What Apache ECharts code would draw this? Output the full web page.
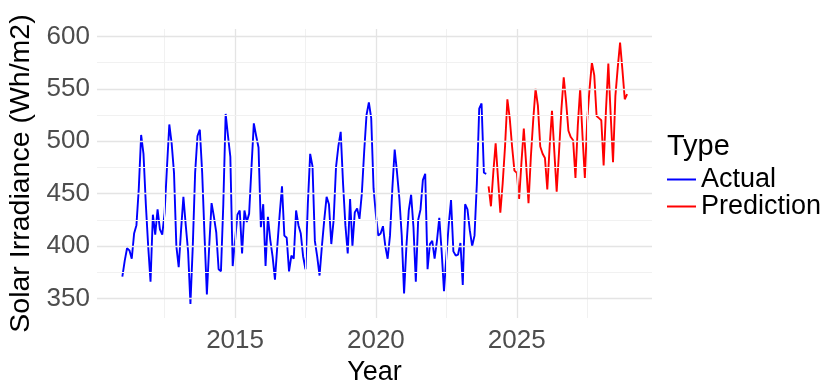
<!DOCTYPE html>
<html>
<head>
<meta charset="utf-8">
<script src="https://cdn.jsdelivr.net/npm/echarts@6/dist/echarts.min.js"></script>
<style>
  html, body { margin: 0; padding: 0; background: #fff; }
  #chart { width: 827px; height: 380px; }
</style>
</head>
<body>
<div id="chart"></div>
<script>
// ---- Data (monthly) ----
const actualStart = 2011;      // first month: Jan 2011
const predictionStart = 2024;  // first month: Jan 2024

const actualValues = [
  371, 386, 398, 396, 388, 412, 420, 455, 506, 488, 440, 400,   // 2011
  366, 430, 411, 435, 416, 411, 432, 475, 516, 498, 470, 400,   // 2012
  380, 415, 447, 420, 395, 345, 400, 470, 505, 511, 470, 410,   // 2013
  354, 400, 441, 428, 413, 378, 376, 440, 526, 505, 485, 381,   // 2014
  405, 430, 434, 393, 434, 423, 431, 475, 517, 505, 494, 418,   // 2015
  440, 381, 428, 406, 390, 368, 400, 430, 457, 410, 408, 376,   // 2016
  391, 388, 434, 420, 412, 390, 378, 440, 488, 476, 405, 390,   // 2017
  372, 400, 425, 447, 440, 402, 425, 475, 495, 509, 460, 420,   // 2018
  393, 445, 400, 432, 436, 426, 450, 490, 525, 537, 522, 455,   // 2019
  430, 410, 412, 419, 400, 388, 410, 455, 492, 470, 445, 410,   // 2020
  355, 400, 434, 449, 418, 366, 425, 435, 463, 469, 378, 402,   // 2021
  405, 388, 405, 427, 395, 357, 390, 420, 444, 395, 391, 392,   // 2022
  403, 363, 440, 435, 415, 400, 410, 460, 531, 536, 470, 469    // 2023
];

const predictionValues = [
  457, 438, 470, 498, 465, 432, 460, 495, 540, 522, 495, 472,   // 2024
  470, 445, 480, 512, 478, 441, 485, 520, 550, 534, 495, 488,   // 2025
  484, 454, 495, 529, 490, 452, 490, 530, 561, 538, 510, 504,   // 2026
  501, 465, 515, 550, 505, 465, 520, 550, 575, 563, 524, 522,   // 2027
  520, 477, 530, 574, 525, 480, 543, 570, 594, 568, 540, 545    // 2028
];

const xTickLabels = [2015, 2020, 2025];
const yTickLabels = [350, 400, 450, 500, 550, 600];
const xMinorGrid = [2012.5, 2017.5, 2022.5, 2027.5];
const yMinorGrid = [375, 425, 475, 525, 575];

const seriesNames = ['Actual', 'Prediction'];
const seriesColors = ['#0000ff', '#ff0000'];

// ---- Build the chart ----
function toPairs(start, values) {
  return values.map((v, i) => [start + i / 12, v]);
}

const font = "'Liberation Sans', Arial, sans-serif";

const gridLines = [];
xTickLabels.forEach(v => gridLines.push({ xAxis: v, lineStyle: { color: '#e4e4e4', width: 1.3 } }));
xMinorGrid.forEach(v => gridLines.push({ xAxis: v, lineStyle: { color: '#f1f1f1', width: 1 } }));
yTickLabels.forEach(v => gridLines.push({ yAxis: v, lineStyle: { color: '#e4e4e4', width: 1.3 } }));
yMinorGrid.forEach(v => gridLines.push({ yAxis: v, lineStyle: { color: '#f1f1f1', width: 1 } }));

const chart = echarts.init(document.getElementById('chart'), null, { renderer: 'canvas' });

chart.setOption({
  animation: false,
  backgroundColor: '#ffffff',
  textStyle: { fontFamily: font },
  grid: { left: 97, right: 175, top: 29, bottom: 62, containLabel: false, outerBoundsMode: 'none' },
  title: {
    text: 'Type',
    left: 667,
    top: 132,
    padding: 0,
    textStyle: { fontFamily: font, fontSize: 29, fontWeight: 'normal', color: '#000' }
  },
  legend: {
    data: seriesNames,
    orient: 'vertical',
    left: 667,
    top: 166,
    padding: 0,
    itemGap: 0,
    itemWidth: 29,
    itemHeight: 2,
    icon: 'rect',
    textStyle: { fontFamily: font, fontSize: 27, color: '#000' },
    selectedMode: false
  },
  xAxis: {
    type: 'value',
    min: 2010.1,
    max: 2029.8,
    name: 'Year',
    nameLocation: 'middle',
    nameGap: 37,
    nameTextStyle: { fontFamily: font, fontSize: 27, color: '#000' },
    axisLine: { show: false },
    axisTick: { show: false },
    splitLine: { show: false },
    axisLabel: {
      customValues: xTickLabels,
      margin: 10,
      fontFamily: font,
      fontSize: 26,
      color: '#4d4d4d',
      formatter: v => String(Math.round(v))
    }
  },
  yAxis: {
    type: 'value',
    min: 331.5,
    max: 607,
    name: 'Solar Irradiance (Wh/m2)',
    nameLocation: 'middle',
    nameRotate: 90,
    nameGap: 48,
    nameTextStyle: { fontFamily: font, fontSize: 28.5, color: '#000' },
    axisLine: { show: false },
    axisTick: { show: false },
    splitLine: { show: false },
    axisLabel: {
      customValues: yTickLabels,
      margin: 7,
      fontFamily: font,
      fontSize: 26,
      color: '#4d4d4d'
    }
  },
  series: [
    {
      name: 'grid',
      type: 'line',
      data: [],
      z: 0,
      silent: true,
      markLine: {
        silent: true,
        symbol: 'none',
        label: { show: false },
        emphasis: { disabled: true },
        lineStyle: { type: 'solid' },
        data: gridLines
      }
    },
    {
      name: seriesNames[0],
      type: 'line',
      data: toPairs(actualStart, actualValues),
      showSymbol: false,
      symbol: 'none',
      z: 3,
      itemStyle: { color: seriesColors[0] },
      lineStyle: { color: seriesColors[0], width: 1.9 }
    },
    {
      name: seriesNames[1],
      type: 'line',
      data: toPairs(predictionStart, predictionValues),
      showSymbol: false,
      symbol: 'none',
      z: 3,
      itemStyle: { color: seriesColors[1] },
      lineStyle: { color: seriesColors[1], width: 1.9 }
    }
  ]
});
</script>
</body>
</html>
